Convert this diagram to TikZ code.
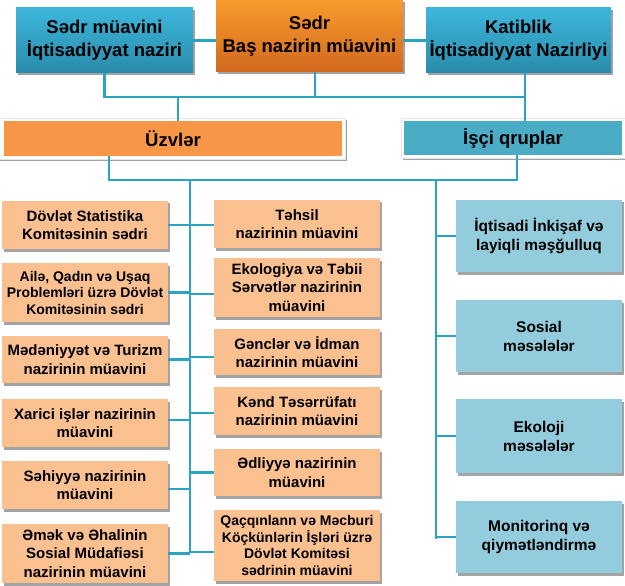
\documentclass[tikz,border=0pt]{standalone}
\usepackage{fontspec}
\setmainfont{Liberation Sans}
\usetikzlibrary{shadows}
\definecolor{linkblue}{HTML}{2BA3C4}
\definecolor{topbluehi}{HTML}{3DB6DB}
\definecolor{topbluelo}{HTML}{2A8BAA}
\definecolor{chairhi}{HTML}{F99B2C}
\definecolor{chairlo}{HTML}{D2691E}
\definecolor{memberorange}{HTML}{F79646}
\definecolor{groupblue}{HTML}{4BACC6}
\definecolor{peach}{HTML}{FAC090}
\definecolor{paleblue}{HTML}{93CDDD}
\tikzset{
    box/.style={rectangle, inner sep=1pt, align=center, text=black},
    shade box/.style={drop shadow={shadow xshift=1.5pt, shadow yshift=-2.5pt, fill=black!45, opacity=.8}},
    topbox/.style={box, shade box, minimum height=65pt, font=\fontsize{18.5}{23}\selectfont\bfseries,
        top color=topbluehi, bottom color=topbluelo},
    headbox/.style={box, minimum height=35pt, font=\fontsize{18.5}{22}\selectfont\bfseries},
    headframe/.style={fill=white, draw=black!10, line width=.6pt, shade box},
    memberbox/.style={box, shade box, fill=peach, minimum width=166pt, font=\fontsize{15}{18.5}\selectfont\bfseries},
    smallmember/.style={memberbox, font=\fontsize{14}{16.5}\selectfont\bfseries},
    groupbox/.style={box, shade box, fill=paleblue, minimum width=166pt, minimum height=72pt, font=\fontsize{15.5}{19}\selectfont\bfseries},
    link/.style={draw=linkblue, line width=2.4pt}
}
\begin{document}
\begin{tikzpicture}[x=1pt, y=-1pt]
        \useasboundingbox (0,0) rectangle (625,586);
        %% Top row
        \node[topbox, minimum width=177pt] (vice) at (104.5,40.5) {Sədr müavini\\İqtisadiyyat naziri};
        \node[topbox, minimum width=187pt, minimum height=72pt, top color=chairhi, bottom color=chairlo]
            (chair) at (309.5,36) {Sədr\\Baş nazirin müavini};
        \node[topbox, minimum width=185pt] (secr) at (518.5,40.5) {Katiblik\\İqtisadiyyat Nazirliyi};
        %% Headers
        \path[headframe] (-3,118) rectangle (345,159);
        \node[headbox, fill=memberorange, minimum width=338pt] (members) at (173,138.5) {Üzvlər};
        \path[headframe] (401,118) rectangle (627,158);
        \node[headbox, fill=groupblue, minimum width=218pt, minimum height=34pt] (groups) at (513,138) {İşçi qruplar};
        %% Bus coordinates
        \coordinate (busA)  at (105,97);
        \coordinate (busB)  at (109,180);
        \coordinate (ltop)  at (190,180);
        \coordinate (lend)  at (190,553);
        \coordinate (rtop)  at (436,180);
        \coordinate (rend)  at (436,539);
        %% Top links
        \draw[link] (vice.east) -- (vice.east -| chair.west);
        \draw[link] (secr.west) -- (secr.west -| chair.east);
        \draw[link] (vice.south) |- ([xshift=6.5pt]secr.south |- busA);
        \draw[link] ([xshift=5.5pt]chair.south) -- ([xshift=5.5pt]chair.south |- busA);
        \draw[link] ([xshift=6.5pt]secr.south) -- ([xshift=6.5pt]secr.south |- groups.north);
        \draw[link] ([xshift=5pt]members.north |- busA) -- ([xshift=5pt]members.north);
        %% Lower bus
        \draw[link] (busB |- members.south) -- (busB) -- ([xshift=4pt]groups.south |- busB)
            -- ([xshift=4pt]groups.south);
        \draw[link] (ltop) -- (lend);
        \draw[link] (rtop) -- (rend);
        %% Members, left column
        \node[memberbox, minimum height=48pt] (L1) at (85,225)   {Dövlət Statistika\\Komitəsinin sədri};
        \node[smallmember, minimum height=59pt] (L2) at (85,292.5) {Ailə, Qadın və Uşaq\\Problemləri üzrə Dövlət\\Komitəsinin sədri};
        \node[memberbox, minimum height=47pt] (L3) at (85,359.5) {Mədəniyyət və Turizm\\nazirinin müavini};
        \node[memberbox, minimum height=48pt] (L4) at (85,423)   {Xarici işlər nazirinin\\müavini};
        \node[memberbox, minimum height=48pt] (L5) at (85,485)   {Səhiyyə nazirinin\\müavini};
        \node[memberbox, minimum height=59pt] (L6) at (85,553.5) {Əmək və Əhalinin\\Sosial Müdafiəsi\\nazirinin müavini};
        %% Members, middle column
        \node[memberbox, minimum height=48pt] (M1) at (297,224)   {Təhsil\\nazirinin müavini};
        \node[memberbox, minimum height=59pt] (M2) at (297,287.5) {Ekologiya və Təbii\\Sərvətlər nazirinin\\müavini};
        \node[memberbox, minimum height=46pt] (M3) at (297,352)   {Gənclər və İdman\\nazirinin müavini};
        \node[memberbox, minimum height=48pt] (M4) at (297,411)   {Kənd Təsərrüfatı\\nazirinin müavini};
        \node[memberbox, minimum height=47pt] (M5) at (297,472.5) {Ədliyyə nazirinin\\müavini};
        \node[smallmember, minimum height=71pt] (M6) at (297,545.5) {Qaçqınlann və Məcburi\\Köçkünlərin İşləri üzrə\\Dövlət Komitəsi\\sədrinin müavini};
        %% Working groups
        \node[groupbox] (R1) at (539,236) {İqtisadi İnkişaf və\\layiqli məşğulluq};
        \node[groupbox] (R2) at (539,336) {Sosial\\məsələlər};
        \node[groupbox, minimum height=74pt] (R3) at (539,436) {Ekoloji\\məsələlər};
        \node[groupbox] (R4) at (539,537) {Monitorinq və\\qiymətləndirmə};
        %% Branch links
        \draw[link] (L1.east) -- (L1.east -| ltop);
        \draw[link] (L2.east) -- (L2.east -| ltop);
        \draw[link] (L3.east) -- (L3.east -| ltop);
        \draw[link] ([yshift=3pt]L4.east) -- ([yshift=3pt]L4.east -| ltop);
        \draw[link] ([yshift=-4pt]L5.east) -- ([yshift=-4pt]L5.east -| ltop);
        \draw[link] (L6.east) -- (L6.east -| ltop);
        \draw[link] ([yshift=-1pt]M1.west) -- ([yshift=-1pt]M1.west -| ltop);
        \draw[link] ([yshift=-6.5pt]M2.west) -- ([yshift=-6.5pt]M2.west -| ltop);
        \draw[link] ([yshift=-5pt]M3.west) -- ([yshift=-5pt]M3.west -| ltop);
        \draw[link] ([yshift=-2pt]M4.west) -- ([yshift=-2pt]M4.west -| ltop);
        \draw[link] (M5.west) -- (M5.west -| ltop);
        \draw[link] ([yshift=-6.5pt]M6.west) -- ([yshift=-6.5pt]M6.west -| ltop);
        \draw[link] (R1.west) -- (R1.west -| rtop);
        \draw[link] (R2.west) -- (R2.west -| rtop);
        \draw[link] (R3.west) -- (R3.west -| rtop);
        \draw[link] (R4.west) -- (R4.west -| rtop);
    \end{tikzpicture}
\end{document}
